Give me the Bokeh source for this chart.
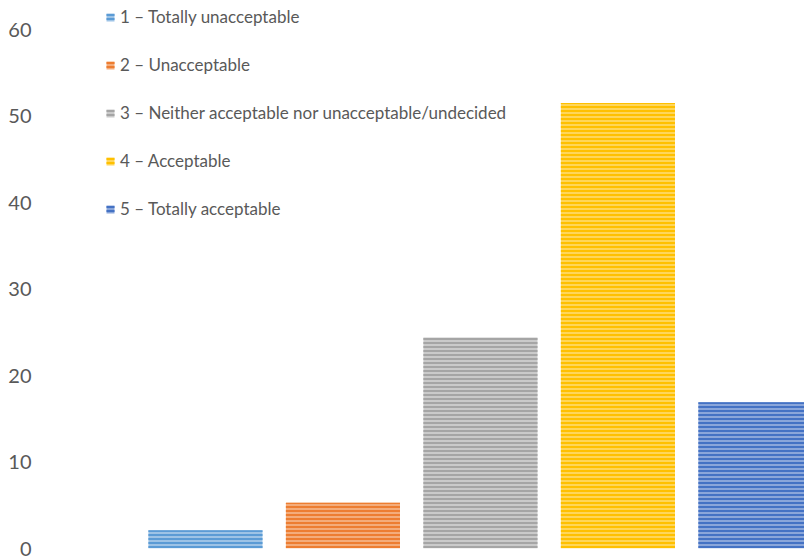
from bokeh.plotting import figure
from bokeh.models import ColumnDataSource, Range1d
from bokeh.embed import file_html
from bokeh.resources import INLINE

# Survey responses (% of respondents) on a 5-point acceptability scale
labels = [
    "1 – Totally unacceptable",
    "2 – Unacceptable",
    "3 – Neither acceptable nor unacceptable/undecided",
    "4 – Acceptable",
    "5 – Totally acceptable",
]
shares = [2.1, 5.3, 24.4, 51.5, 16.9]
y_ticks = [0, 10, 20, 30, 40, 50, 60]

stripe_colors = ["#5B9BD5", "#ED7D31", "#A5A5A5", "#FFC000", "#4472C4"]
fill_colors = ["#9DC3E6", "#F4AC7A", "#CACACA", "#FFD659", "#8AA6DA"]

source = ColumnDataSource(dict(
    x=list(range(1, len(labels) + 1)),
    top=shares,
    label=labels,
    fill=fill_colors,
    stripe=stripe_colors,
))

TEXT = "#595959"
FONT = "Lato"

# frame starts at the very top so the legend can sit above the 60 tick
p = figure(
    width=804, height=558,
    x_range=Range1d(-0.127, 5.357), y_range=Range1d(0, 63.36),
    output_backend="svg", toolbar_location=None,
    min_border_left=50, min_border_right=0,
    min_border_top=0, min_border_bottom=10,
)
p.outline_line_color = None
p.background_fill_color = "white"
p.border_fill_color = "white"

p.vbar(
    x="x", top="top", width=0.83, bottom=0, source=source,
    fill_color="fill", line_color=None,
    hatch_pattern="horizontal_line", hatch_color="stripe",
    hatch_scale=4, hatch_weight=2,
    legend_field="label",
)

p.xgrid.visible = False
p.ygrid.visible = False
p.xaxis.visible = False

yax = p.yaxis[0]
yax.ticker = y_ticks
yax.axis_line_color = None
yax.major_tick_line_color = None
yax.minor_tick_line_color = None
yax.major_label_standoff = 13
yax.major_label_text_font = FONT
yax.major_label_text_font_size = "20px"
yax.major_label_text_color = TEXT

leg = p.legend[0]
leg.location = (55, 329)
leg.orientation = "vertical"
leg.border_line_color = None
leg.background_fill_alpha = 0
leg.padding = 0
leg.margin = 0
leg.glyph_width = 10
leg.glyph_height = 10
leg.label_height = 20
leg.spacing = 27
leg.label_standoff = 5
leg.label_text_font = FONT
leg.label_text_font_size = "17px"
leg.label_text_color = TEXT

open("out.html", "w").write(file_html(p, INLINE))
